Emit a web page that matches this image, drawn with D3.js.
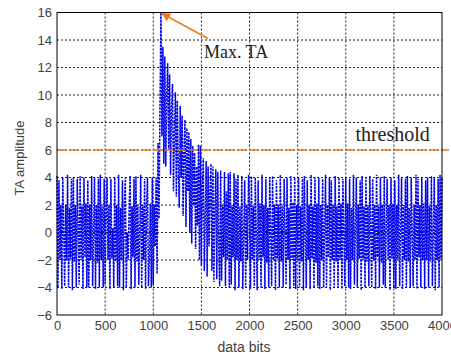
<!DOCTYPE html>
<html>
<head>
<meta charset="utf-8">
<script src="https://cdn.jsdelivr.net/npm/d3@7"></script>
<style>
  body { margin: 0; background: #fff; }
  svg { display: block; }
</style>
</head>
<body>
<div id="chart"></div>
<script>
// sample spacing along the x axis (data bits)
const bitStep = 10;

// TA amplitude, one value every 10 bits (0 .. 4000), 20 values per row
const taAmplitude = [
  4.1, -4, 3.8, -2, 2, -4.1, 4, 0, -3.9, 2, -2, 4.2, -4, 1.8, -1.9, 3.9, -4.2, 4, -2.1, 2,            // 0 - 190
  -4, 3.9, 0.2, -3.8, 4.1, -2, 1.9, -4.1, 4, -1.8, 2.1, -4, 3.8, -4, 2, -2, 4.1, -3.9, 0, 4,          // 200 - 390
  -4.1, 2, -2.2, 3.9, -4, 4.2, -2, 1.9, -4, 3.9, -3.8, 1.7, 4, -2, 2, -4.1, 3.9, -1.9, 0.3, -4,       // 400 - 590
  4, -2.1, 2, -3.9, 4.2, -4, 1.8, -2, 3.8, -4.2, 2.1, 4, -4, 0, -2, 2, 4.1, -4.1, 1.9, -1.8,          // 600 - 790
  3.9, -4, 4.1, -2.1, 2, -3.8, 0.1, 4.2, -4, 2, -2, 3.9, -4.1, 1.8, 4, -3.9, -1.9, 2.1, -4, 4,        // 800 - 990
  -3.8, 2, -1, 4, -3, 6.5, 1, 9, 16, 7, 13.5, 5, 12.8, 4.8, 10, 12.3, 6, 11.5, 4.2, 9,                // 1000 - 1190
  10.8, 3, 7, 10.2, 2.6, 9.6, 5, 1.8, 9.2, 4, 8.5, 1.2, 6, 8.2, 0.4, 7.6, 3, 7.3, 0, 6.8,             // 1200 - 1390
  -0.8, 6.3, 2, 5.8, -1.2, 4.8, 0.5, 6.4, -2, 6.3, -2.4, 3, 5.4, -2.8, 1, 5.2, -3.2, 4.8, -1, 3,      // 1400 - 1590
  5, -2.8, 4.8, -3.6, 1.5, 4.6, -3.4, 4.4, -1, -3.9, 4.5, -3.5, 2, -1.8, 4.4, -3.9, 3, -2, 4.3, -4,   // 1600 - 1790
  4.4, -3.8, 2, -1.8, 4.3, -4.2, 3.9, -2, 4.2, -4, 1.9, -2.1, 4.1, -4.1, 0, 3.8, -4, 2, -2, 4.2,      // 1800 - 1990
  2, -4.1, 4.1, -2, 1.9, -3.9, 4, 0, -4.2, 3.8, -2, 2.1, -4, 4.2, -1.8, 2, -4.1, 3.9, -2.2, 1.8,      // 2000 - 2190
  -4, 4, 0.1, -3.9, 4.1, -2, 2, -4.2, 3.8, -1.9, 2, -4, 4.2, -2.1, 1.9, -4, 3.9, -0.2, -3.8, 4,       // 2200 - 2390
  -2, 1.8, -4.1, 4.1, -2, 2.2, -3.9, 4, -4.1, 2, -2, 4, -4, 1.9, -2.1, 3.9, -4.2, 4.1, 0, -4,         // 2400 - 2590
  3.8, -2, 2, -4.1, 4.2, -1.9, 1.9, -4, 4, -2.2, 2.1, -3.9, 4, -4.1, 2, -2, 3.9, -4, 0.1, 4.2,        // 2600 - 2790
  -4, 2, -1.8, 4, -4.2, 3.8, -2, 2, -4, 4.1, -2.1, 1.9, -4, 4, -2, 2.1, -4.1, 3.9, 0, -3.9,           // 2800 - 2990
  4, -2, 2.1, -4, 3.9, -4.1, 1.8, -2, 4.2, -3.8, 0.2, 4, -4, 2, -1.9, 3.8, -4.2, 4.1, -2, 1.9,        // 3000 - 3190
  -4, 4, -2.1, 2, -3.9, 4.1, 0, -4, 3.9, -2, 2, -4.1, 4.2, -1.8, 1.9, -4, 4, -2.2, 2, -3.8,           // 3200 - 3390
  4.1, -4, 0.1, 3.9, -2, 2, -4.2, 4, -1.9, 2.1, -4, 3.8, -4.1, 2, -2, 4.2, -3.9, 0, 4, -4.1,          // 3400 - 3590
  2, -2, 3.9, -4, 4.1, -2.1, 1.8, -4, 4, 0.2, -3.9, 2, -2, 4.2, -4.1, 3.9, -1.8, 2, -4, 4,            // 3600 - 3790
  -2, 2.1, -4.1, 3.8, -2, 4, -4, 1.9, -2.1, 4.1, -3.9, 0, 4, -4.2, 2, -2, 3.9, -4, 4.2, -2,           // 3800 - 3990
  4                                                                                                   // 4000
];

const thresholdValue = 6;
const maxPoint = { bit: 1080, value: 16 };

const xTicks = [0, 500, 1000, 1500, 2000, 2500, 3000, 3500, 4000];
const yTicks = [-6, -4, -2, 0, 2, 4, 6, 8, 10, 12, 14, 16];

const width = 451, height = 356;
const margin = { top: 12.5, right: 9, bottom: 41, left: 57 };
const innerW = width - margin.left - margin.right;
const innerH = height - margin.top - margin.bottom;

const svg = d3.select('#chart').append('svg')
  .attr('width', width)
  .attr('height', height);

const g = svg.append('g')
  .attr('transform', `translate(${margin.left},${margin.top})`);

const x = d3.scaleLinear().domain([0, 4000]).range([0, innerW]);
const y = d3.scaleLinear().domain([-6, 16]).range([innerH, 0]);

// grid
g.append('g')
  .selectAll('line')
  .data(xTicks.slice(1, -1))
  .join('line')
  .attr('x1', d => x(d)).attr('x2', d => x(d))
  .attr('y1', 0).attr('y2', innerH)
  .attr('stroke', '#222')
  .attr('stroke-width', 1)
  .attr('stroke-dasharray', '2,2');

g.append('g')
  .selectAll('line')
  .data(yTicks.slice(1, -1))
  .join('line')
  .attr('x1', 0).attr('x2', innerW)
  .attr('y1', d => y(d)).attr('y2', d => y(d))
  .attr('stroke', '#222')
  .attr('stroke-width', 1)
  .attr('stroke-dasharray', '2,2');

// signal
const line = d3.line()
  .x((d, i) => x(i * bitStep))
  .y(d => y(d));

g.append('path')
  .datum(taAmplitude)
  .attr('fill', 'none')
  .attr('stroke', '#0000f0')
  .attr('stroke-width', 1.5)
  .attr('stroke-dasharray', '2.5,1')
  .attr('d', line);

// threshold, runs past the right edge of the box
g.append('line')
  .attr('x1', 0).attr('x2', width - margin.left)
  .attr('y1', y(thresholdValue)).attr('y2', y(thresholdValue))
  .attr('stroke', '#f07a1a')
  .attr('stroke-width', 1.5)
  .attr('stroke-dasharray', '8,4');

// axes
const xAxis = g.append('g')
  .attr('transform', `translate(0,${innerH})`)
  .call(d3.axisBottom(x).tickValues(xTicks).tickSize(0).tickPadding(6).tickFormat(d3.format('d')));
const yAxis = g.append('g')
  .call(d3.axisLeft(y).tickValues(yTicks).tickSize(0).tickPadding(5));

[xAxis, yAxis].forEach(a => {
  a.select('.domain').remove();
  a.selectAll('text')
    .attr('font-family', 'Liberation Sans, Arial, sans-serif')
    .attr('font-size', 13)
    .attr('fill', '#404040');
});

// box
g.append('rect')
  .attr('width', innerW).attr('height', innerH)
  .attr('fill', 'none')
  .attr('stroke', '#000')
  .attr('stroke-width', 1);

// labels
svg.append('text')
  .attr('x', 244).attr('y', 352)
  .attr('text-anchor', 'middle')
  .attr('font-family', 'Liberation Sans, Arial, sans-serif')
  .attr('font-size', 14)
  .attr('fill', '#404040')
  .text('data bits');

svg.append('text')
  .attr('transform', 'translate(24,158) rotate(-90)')
  .attr('text-anchor', 'middle')
  .attr('font-family', 'Liberation Sans, Arial, sans-serif')
  .attr('font-size', 13)
  .attr('fill', '#404040')
  .text('TA amplitude');

// annotations
const defs = svg.append('defs');
defs.append('marker')
  .attr('id', 'arrow')
  .attr('viewBox', '0 0 10 10')
  .attr('refX', 9).attr('refY', 5)
  .attr('markerWidth', 6).attr('markerHeight', 6)
  .attr('orient', 'auto')
  .append('path')
  .attr('d', 'M0,0 L10,5 L0,10 z')
  .attr('fill', '#f07a1a');

g.append('line')
  .attr('x1', x(maxPoint.bit) + 47).attr('y1', y(maxPoint.value) + 26)
  .attr('x2', x(maxPoint.bit) + 1).attr('y2', y(maxPoint.value) + 1)
  .attr('stroke', '#f07a1a')
  .attr('stroke-width', 1.5)
  .attr('marker-end', 'url(#arrow)');

g.append('text')
  .attr('x', x(maxPoint.bit) + 43).attr('y', y(maxPoint.value) + 45)
  .attr('font-family', 'Liberation Serif, Times New Roman, serif')
  .attr('font-size', 18)
  .attr('fill', '#222')
  .text('Max. TA');

g.append('text')
  .attr('x', x(3100)).attr('y', y(thresholdValue) - 9)
  .attr('font-family', 'Liberation Serif, Times New Roman, serif')
  .attr('font-size', 20)
  .attr('fill', '#222')
  .text('threshold');
</script>
</body>
</html>
